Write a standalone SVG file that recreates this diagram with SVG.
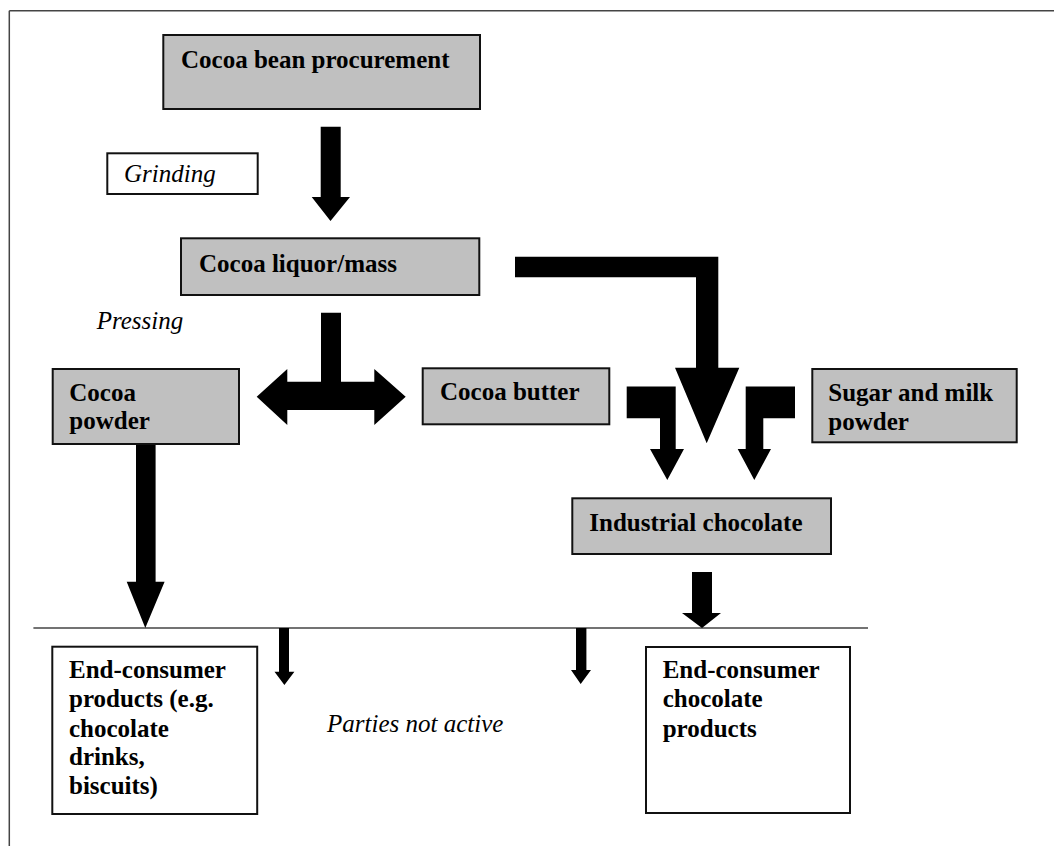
<svg xmlns="http://www.w3.org/2000/svg" width="1054" height="846" viewBox="0 0 1054 846">
<style>
.box{fill:#c0c0c0;stroke:#111;stroke-width:2}
.wbox{fill:#fff;stroke:#111;stroke-width:2}
text{font-family:'Liberation Serif',serif;font-size:25px;fill:#000}
.b{font-weight:bold}
.i{font-style:italic}
.arr{fill:#000;stroke:none}
.rule{stroke:#444;stroke-width:1.5;fill:none}
</style>
<rect width="1054" height="846" fill="#fff"/>
<g id="frame">
<line class="rule" x1="9.3" y1="10.7" x2="1054" y2="10.7"/>
<line class="rule" x1="9.3" y1="10.7" x2="9.3" y2="846"/>
<line class="rule" x1="33.4" y1="628" x2="868" y2="628"/>
</g>
<g id="connectors">
<polygon class="arr" points="320.7,126.7 340.7,126.7 340.7,197 350,197 330.5,221 311.7,197 320.7,197"/>
<polygon class="arr" points="515,256.7 718.3,256.7 718.3,367.7 739.3,367.7 706.7,443.3 675,367.7 696,367.7 696,277.3 515,277.3"/>
<polygon class="arr" points="321,312.7 341,312.7 341,381.7 374.3,381.7 374.3,369 405.7,396.7 374.3,425 374.3,410 287.3,410 287.3,425 256.7,396.7 287.3,369 287.3,381.7 321,381.7"/>
<polygon class="arr" points="626.7,386.5 675.7,386.5 675.7,449 684,449 667.3,480 650,449 660,449 660,418.3 626.7,418.3"/>
<polygon class="arr" points="745.7,386.5 795,386.5 795,418.3 763.3,418.3 763.3,449 771,449 754.3,480 737.7,449 745.7,449"/>
<polygon class="arr" points="136,444 155.6,444 155.6,581.7 164.6,581.7 145.3,628 126.7,581.7 136,581.7"/>
<polygon class="arr" points="692,572 712,572 712,613 721,613 702,628 682,613 692,613"/>
<polygon class="arr" points="279,628 289,628 289,671.7 294.4,671.7 284.4,685 274.5,671.7 279,671.7"/>
<polygon class="arr" points="576,628 586.4,628 586.4,670 591,670 580.7,684 571,670 576,670"/>
</g>
<g id="cocoa-bean">
<rect class="box" x="163.3" y="35" width="316.7" height="74"/>
<text class="b" x="181" y="68">Cocoa bean procurement</text>
</g>
<g id="grinding">
<rect class="wbox" x="107.3" y="153.3" width="150.4" height="40.7"/>
<text class="i" x="124" y="182" font-size="24">Grinding</text>
</g>
<g id="cocoa-liquor">
<rect class="box" x="181" y="238.3" width="298.3" height="56.7"/>
<text class="b" x="199" y="272">Cocoa liquor/mass</text>
</g>
<g id="pressing">
<text class="i" x="96.7" y="329">Pressing</text>
</g>
<g id="cocoa-powder">
<rect class="box" x="52.7" y="369" width="186.3" height="75"/>
<text class="b" x="69.3" y="401">Cocoa</text>
<text class="b" x="69.3" y="429.3">powder</text>
</g>
<g id="cocoa-butter">
<rect class="box" x="422.7" y="368.3" width="186.6" height="56"/>
<text class="b" x="440" y="400">Cocoa butter</text>
</g>
<g id="sugar-milk">
<rect class="box" x="812.3" y="369" width="204.4" height="73.3"/>
<text class="b" x="828.3" y="400.7">Sugar and milk</text>
<text class="b" x="828.3" y="430">powder</text>
</g>
<g id="industrial-chocolate">
<rect class="box" x="572.3" y="498.3" width="258.7" height="55.7"/>
<text class="b" x="589.3" y="530.7">Industrial chocolate</text>
</g>
<g id="end-consumer-products">
<rect class="wbox" x="52.3" y="646.7" width="204.9" height="167.3"/>
<text class="b" x="69" y="678.3">End-consumer</text>
<text class="b" x="69" y="707.3">products (e.g.</text>
<text class="b" x="69" y="736.7">chocolate</text>
<text class="b" x="69" y="765">drinks,</text>
<text class="b" x="69" y="794">biscuits)</text>
</g>
<g id="parties-not-active">
<text class="i" x="327" y="731.7">Parties not active</text>
</g>
<g id="end-consumer-chocolate">
<rect class="wbox" x="646" y="647" width="204" height="166"/>
<text class="b" x="662.7" y="678.3">End-consumer</text>
<text class="b" x="662.7" y="707">chocolate</text>
<text class="b" x="662.7" y="736.7">products</text>
</g>
</svg>
